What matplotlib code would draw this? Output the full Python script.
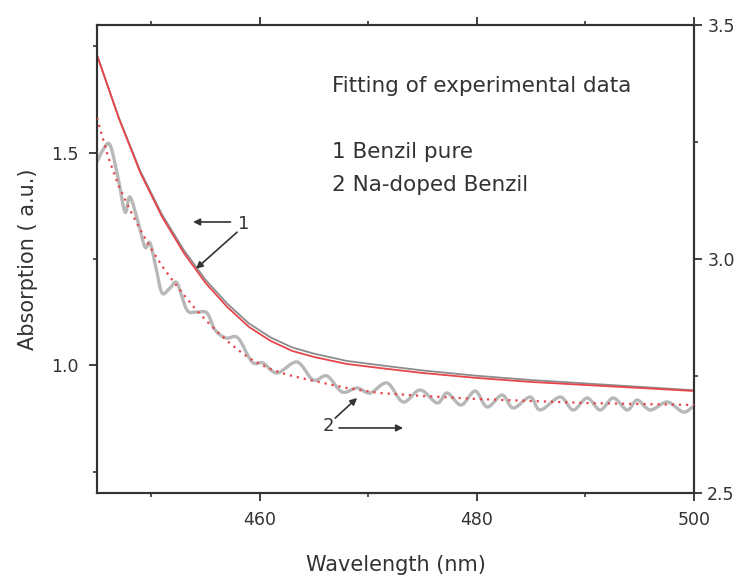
import numpy as np
import matplotlib
matplotlib.use('Agg')
import matplotlib.pyplot as plt
from matplotlib.ticker import MultipleLocator, FormatStrFormatter
from matplotlib.path import Path
from matplotlib.patches import PathPatch

# curve 1 - Benzil pure (left axis)
wl_1 = [445, 447, 449, 451, 453, 455, 457, 459, 461, 463, 465, 468, 471, 475, 480, 485, 490, 495, 500]
fit_1 = [1.7295, 1.5814, 1.4522, 1.3488, 1.2642, 1.1937, 1.1372, 1.0903, 1.0574, 1.0338,
         1.0197, 1.0033, 0.9939, 0.9821, 0.9704, 0.9610, 0.9539, 0.9469, 0.9398]
exp_1 = [1.7295, 1.5830, 1.4560, 1.3540, 1.2710, 1.2010, 1.1450, 1.0985, 1.0655, 1.0420,
         1.0275, 1.0105, 1.0005, 0.9880, 0.9755, 0.9655, 0.9575, 0.9495, 0.9415]

# curve 2 - Na-doped Benzil (right axis)
wl_fit2 = [445, 446, 447, 448, 449, 450, 451, 452, 453, 454, 455, 456, 457, 458, 459, 460, 461, 462, 463,
           465, 468, 471, 475, 480, 485, 490, 495, 500]
fit_2 = [3.3013, 3.2201, 3.1560, 3.1068, 3.0620, 3.0214, 2.9850, 2.9530, 2.9231, 2.8953, 2.8697,
         2.8462, 2.8248, 2.8056, 2.7885, 2.7756, 2.7650, 2.7564, 2.7500,
         2.7393, 2.7244, 2.7137, 2.7073, 2.7009, 2.6966, 2.6923, 2.6902, 2.6880]

wl_exp2 = [445.00, 445.55, 446.20, 446.94, 447.58, 448.04, 448.78, 449.42, 449.88, 450.44,
           450.99, 451.73, 452.37, 453.29, 454.22, 455.14, 455.88, 456.89, 457.99, 459.29,
           460.30, 461.59, 463.43, 464.91, 466.20, 467.58, 468.96, 470.16, 471.73, 473.20,
           474.77, 476.34, 477.26, 478.55, 479.84, 480.94, 482.33, 483.34, 484.91, 485.83,
           487.67, 488.87, 490.16, 491.36, 492.56, 493.85, 494.77, 495.97, 497.53, 499.01,
           500.00]
exp_2 = [3.2073, 3.2329, 3.2436, 3.1731, 3.1004, 3.1325, 3.0791, 3.0256, 3.0342, 2.9808,
         2.9274, 2.9380, 2.9487, 2.8910, 2.8868, 2.8846, 2.8483, 2.8312, 2.8312, 2.7799,
         2.7778, 2.7564, 2.7799, 2.7415, 2.7500, 2.7158, 2.7244, 2.7137, 2.7350, 2.6944,
         2.7201, 2.6923, 2.7137, 2.6880, 2.7179, 2.6838, 2.7094, 2.6816, 2.7051, 2.6774,
         2.7051, 2.6774, 2.7030, 2.6774, 2.7030, 2.6774, 2.6987, 2.6774, 2.6944, 2.6731,
         2.6859]

dark = '#333333'
red = '#e8454a'


def smooth_path(xs, ys):
    # bezier (catmull-rom) path through the measured points
    p = np.column_stack([xs, ys]).astype(float)
    n = len(p)
    t = np.zeros_like(p)
    t[1:-1] = (p[2:] - p[:-2]) / 2
    t[0] = p[1] - p[0]
    t[-1] = p[-1] - p[-2]
    verts = [p[0]]
    codes = [Path.MOVETO]
    for i in range(n - 1):
        verts += [p[i] + t[i] / 3, p[i + 1] - t[i + 1] / 3, p[i + 1]]
        codes += [Path.CURVE4] * 3
    return Path(verts, codes)


fig = plt.figure(figsize=(7.43, 5.8), dpi=100)
ax = fig.add_axes([97/743, 1-493/580, 597/743, 468/580])
ax2 = ax.twinx()

ax.plot(wl_1, exp_1, color='#8c8c8c', lw=1.3, zorder=2)
ax.plot(wl_1, fit_1, color=red, lw=1.3, zorder=3)
ax2.add_patch(PathPatch(smooth_path(wl_exp2, exp_2), facecolor='none',
                        edgecolor='#b8b8b8', lw=2.4, zorder=2))
ax2.plot(wl_fit2, fit_2, color=red, lw=1.6, ls=(0, (1, 2.2)), zorder=3)

ax.set_xlim(445, 500)
ax.set_ylim(0.7, 1.8)
ax2.set_ylim(2.5, 3.5)

ax.xaxis.set_major_locator(MultipleLocator(20))
ax.xaxis.set_minor_locator(MultipleLocator(10))
ax.yaxis.set_minor_locator(MultipleLocator(0.25))
ax2.yaxis.set_major_locator(MultipleLocator(0.5))
ax2.yaxis.set_minor_locator(MultipleLocator(0.25))
ax.set_yticks([1.0, 1.5])

for a in (ax, ax2):
    for s in a.spines.values():
        s.set_color(dark)
        s.set_linewidth(1.5)

ax.tick_params(axis='both', which='major', direction='out', length=6, width=1.3,
               colors=dark, labelsize=12.5, top=True, pad=7)
ax.tick_params(axis='both', which='minor', direction='out', length=3, width=1.2,
               colors=dark, top=True)
ax2.tick_params(axis='y', which='major', direction='out', length=6, width=1.3,
                colors=dark, labelsize=12.5)
ax2.tick_params(axis='y', which='minor', direction='out', length=3, width=1.2, colors=dark)
ax.yaxis.set_major_formatter(FormatStrFormatter('%.1f'))
ax2.yaxis.set_major_formatter(FormatStrFormatter('%.1f'))

ax.set_xlabel('Wavelength (nm)', fontsize=15, color=dark, labelpad=19)
ax.set_ylabel('Absorption ( a.u.)', fontsize=15, color=dark, labelpad=10)

ax.text(0.393, 0.870, 'Fitting of experimental data', transform=ax.transAxes,
        fontsize=15.5, color=dark, va='center')
ax.text(0.393, 0.728, '1 Benzil pure', transform=ax.transAxes,
        fontsize=15.5, color=dark, va='center')
ax.text(0.393, 0.658, '2 Na-doped Benzil', transform=ax.transAxes,
        fontsize=15.5, color=dark, va='center')

arr = dict(arrowstyle='-|>', color=dark, lw=1.2, mutation_scale=10, shrinkA=0, shrinkB=0)
ax.annotate('', xy=(453.85, 1.337), xytext=(457.3, 1.337), arrowprops=arr)
ax.annotate('', xy=(454.12, 1.227), xytext=(457.9, 1.313), arrowprops=arr)
ax.text(458.5, 1.332, '1', fontsize=13, color=dark, ha='center', va='center')

ax2.annotate('', xy=(468.96, 2.703), xytext=(466.94, 2.660), arrowprops=arr)
ax2.annotate('', xy=(473.2, 2.639), xytext=(467.3, 2.639), arrowprops=arr)
ax2.text(466.3, 2.643, '2', fontsize=13, color=dark, ha='center', va='center')

fig.savefig('out.png', dpi=100)
